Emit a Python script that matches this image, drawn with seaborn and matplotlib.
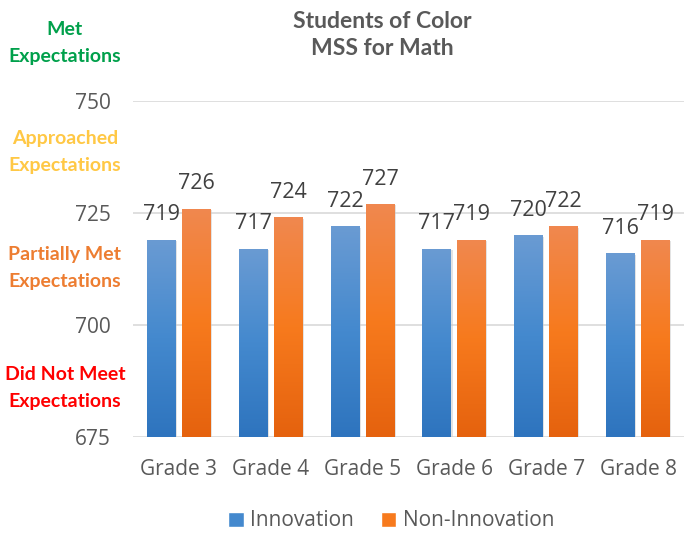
import numpy as np
import pandas as pd
import matplotlib
matplotlib.use("Agg")
import matplotlib.pyplot as plt
import seaborn as sns
from matplotlib.colors import LinearSegmentedColormap
from matplotlib.patches import Patch

grades = ["Grade 3", "Grade 4", "Grade 5", "Grade 6", "Grade 7", "Grade 8"]
innovation = [719, 717, 722, 717, 720, 716]
non_innovation = [726, 724, 727, 719, 722, 719]
groups = ["Innovation", "Non-Innovation"]

bands = [("Met\nExpectations", "#00A04B", 43),
         ("Approached\nExpectations", "#FFC845", 152),
         ("Partially Met\nExpectations", "#ED7D31", 268),
         ("Did Not Meet\nExpectations", "#FF0000", 388)]

df = pd.DataFrame({"Grade": grades * 2,
                   "Group": [groups[0]] * 6 + [groups[1]] * 6,
                   "Score": innovation + non_innovation})

sns.set_style("white")
plt.rcParams["font.family"] = ["Open Sans", "DejaVu Sans"]
bold_font = ["Lato", "DejaVu Sans"]

grad = {
    "Innovation": ["#2E74BE", "#4489CE", "#6A9BD3"],
    "Non-Innovation": ["#E5620E", "#F77A1D", "#F0884F"],
}
mid = {k: v[1] for k, v in grad.items()}

W, H = 685, 542
fig = plt.figure(figsize=(W / 100, H / 100), dpi=100)
ax = fig.add_axes([133 / W, 1 - 437 / H, (684 - 133) / W, (437 - 101) / H])

sns.barplot(data=df, x="Grade", y="Score", hue="Group", palette=mid,
            width=0.76, gap=0.17, ax=ax, legend=False, zorder=3)

ax.set_ylim(675, 750)
xl = ax.get_xlim()

# gradient fill on each bar
gradimg = np.linspace(0, 1, 256).reshape(-1, 1)
for i, cont in enumerate(ax.containers):
    cmap = LinearSegmentedColormap.from_list("g", grad[groups[i]])
    vals = innovation if i == 0 else non_innovation
    for bar, v in zip(cont, vals):
        x, w = bar.get_x(), bar.get_width()
        # soft shadow
        ax.add_patch(plt.Rectangle((x + 0.012, 675), w, v - 675 - 0.3,
                                   color="#c8c8c8", alpha=0.5, zorder=2, lw=0))
        im = ax.imshow(gradimg, cmap=cmap, origin="lower", aspect="auto",
                       extent=[x, x + w, 675, v], zorder=3.5)
        im.set_clip_path(bar)
        bar.set_edgecolor("none")
        ax.annotate(f"{v}", (x + w / 2, v), xytext=(0, 18), textcoords="offset points",
                    ha="center", va="center", fontsize=15.5, color="#404040", zorder=5)

ax.set_xlim(xl)
ax.set_ylim(675, 750)
ax.set_yticks([675, 700, 725, 750])
ax.yaxis.grid(True, color="#D9D9D9", lw=1.2, zorder=0)
ax.set_axisbelow(True)
sns.despine(ax=ax, left=True, bottom=True, top=True, right=True)
ax.tick_params(axis="y", length=0, pad=16, labelsize=15, labelcolor="#595959")
ax.tick_params(axis="x", length=0, pad=16, labelsize=15, labelcolor="#595959")
ax.set_xlabel("")
ax.set_ylabel("")

fig.text(382 / W, 1 - 35 / H, "Students of Color\nMSS for Math", ha="center", va="center",
         fontsize=16.5, fontweight="bold", color="#595959", linespacing=1.35,
         family=bold_font)

for txt, col, yc in bands:
    fig.text(65 / W, 1 - yc / H, txt, ha="center", va="center", fontsize=14,
             fontweight="bold", color=col, linespacing=1.75, family=bold_font)

handles = [Patch(facecolor=mid[g], label=g) for g in groups]
fig.legend(handles=handles, loc="center", bbox_to_anchor=(391 / W, 1 - 521 / H), ncol=2,
           frameon=False, fontsize=15, handlelength=0.75, handleheight=0.75,
           handletextpad=0.3, columnspacing=1.3, labelcolor="#595959")

fig.savefig("out.png", dpi=100)
